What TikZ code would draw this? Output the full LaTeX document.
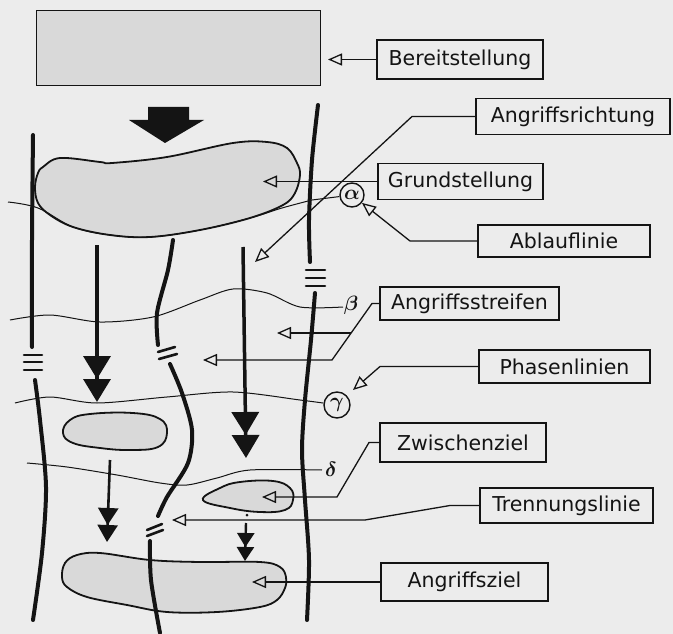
\documentclass[tikz,border=0pt]{standalone}
\usepackage{fontspec}
\setmainfont{DejaVu Sans}
\usetikzlibrary{arrows.meta}
\definecolor{paper}{gray}{0.925}
\definecolor{dotfill}{gray}{0.85}
\definecolor{ink}{gray}{0.08}
\begin{document}
\begin{tikzpicture}[
  x=1pt, y=-1pt,
  lbox/.style={draw=ink, line width=1.8pt, minimum height=36pt, inner sep=2pt,
               font=\fontsize{20.5}{24}\selectfont, text=ink},
  conn/.style={draw=ink, line width=1.3pt,
               -{Triangle[open, length=14pt, width=12pt, line width=1.3pt]}},
  wall/.style={draw=ink, line width=4pt, line cap=round},
  phase/.style={draw=ink, line width=1pt},
  area/.style={draw=ink, line width=1.8pt, fill=dotfill},
  brk/.style={draw=ink, line width=2.6pt, line cap=round},
  push/.style={draw=ink, line width=3.5pt,
               -{Triangle[length=23pt, width=27pt] Triangle[length=23pt, width=27pt]}},
  nudge/.style={draw=ink, line width=2.6pt,
               -{Triangle[length=17pt, width=20pt] Triangle[length=17pt, width=20pt]}},
  greek/.style={font=\fontsize{21}{23}\selectfont\boldmath, text=ink},
  pmark/.style={circle, draw=ink, line width=1.4pt, inner sep=0pt, minimum size=24pt, greek}
]
\useasboundingbox (0,0) rectangle (673,634);
\fill[paper] (0,0) rectangle (673,634);

\path[fill=dotfill, draw=ink, line width=0.8pt] (36,10) rectangle (320,85);
\fill[ink] (148,107) -- (189,107) -- (189,120) -- (204,120) -- (165,143)
  -- (129,120) -- (148,120) -- cycle;

\path[area] plot[smooth cycle, tension=0.6] coordinates {(43,167) (60,158) (100,162) (112,163)
  (167,157) (233,143) (267,142) (287,148) (297,163) (300,175) (295,193) (283,205)
  (250,218) (200,230) (150,237) (110,235) (73,227) (50,215) (38,203) (35,187) (38,173)};
\path[area] plot[smooth cycle, tension=0.7] coordinates {(63,433) (70,420) (90,414) (133,413)
  (160,419) (167,433) (158,447) (130,450) (100,448) (73,443)};
\path[area] plot[smooth cycle, tension=0.7] coordinates {(203,500) (220,488) (240,482)
  (273,481) (290,488) (293,500) (285,510) (260,512) (230,508)};
\path[area] plot[smooth cycle, tension=0.6] coordinates {(62,577) (65,563) (77,555) (100,553)
  (150,560) (200,562) (260,562) (280,567) (286,577) (285,588) (277,600) (260,607)
  (217,612) (167,612) (127,605) (87,597) (67,587)};

\node[pmark] (alpha) at (352,195) {$\alpha$};
\node[pmark, minimum size=26pt] (gamma) at (337,405) {$\gamma$};
\node[greek, inner sep=1pt] (beta) at (351,305) {$\beta$};
\node[greek, inner sep=1pt] (delta) at (331,469) {$\delta$};

\draw[phase] plot[smooth, tension=0.6] coordinates {(8,202) (38,208) (73,227) (110,235)
  (150,237) (200,230) (250,218) (282,208) (312,200)} -- (alpha);
\draw[phase] plot[smooth] coordinates {(10,320) (50,315) (100,322) (153,317) (200,300)
  (233,289) (267,293) (300,307) (343,307)};
\draw[phase] plot[smooth] coordinates {(15,403) (50,397) (97,403) (167,397) (233,392)
  (300,400) (323,403)} -- (gamma);
\draw[phase] plot[smooth] coordinates {(27,463) (67,467) (117,475) (160,483) (187,485)
  (217,478) (250,470) (322,470)};

\draw[wall] plot[smooth] coordinates {(33,135) (32,240) (32,347)};
\draw[wall] plot[smooth] coordinates {(35,380) (40,420) (46,487) (42,553) (33,620)};
\foreach \y in {355,362,370} \draw[brk] (24,\y) -- (42,\y);
\draw[wall] plot[smooth] coordinates {(318,105) (312,160) (309,220) (310,262)};
\draw[wall] plot[smooth] coordinates {(315,293) (311,340) (305,400) (302,450) (305,500)
  (309,560) (307,620)};
\foreach \y in {270,278,286} \draw[brk] (306,\y) -- (325,\y);
\draw[wall] plot[smooth] coordinates {(173,240) (168,270) (157,313) (158,345)};
\draw[wall] plot[smooth] coordinates {(170,364) (182,393) (192,430) (188,463) (167,497)
  (158,516)};
\draw[wall] plot[smooth] coordinates {(150,541) (151,580) (160,633)};
\draw[brk] (158,352) -- (175,347);
\draw[brk] (159,359) -- (177,354);
\draw[brk] (147,530) -- (162,524);
\draw[brk] (147,536) -- (163,530);

\draw[push] (97,245) -- (97,402);
\draw[push] (243,247) -- (246,458);
\draw[nudge] (110,460) -- (107,542);
\fill[ink] (247,515) circle (1.5pt);
\draw[draw=ink, line width=2.4pt,
  -{Triangle[length=14pt, width=17pt] Triangle[length=14pt, width=17pt]}] (246,523) -- (245,561);

\node[lbox, minimum width=166pt, minimum height=39pt] (bereit) at (460,59.5) {Bereitstellung};
\node[lbox, minimum width=194pt] (richtung) at (573,116.5) {Angriffsrichtung};
\node[lbox, minimum width=165pt] (grund) at (460.5,181.5) {Grundstellung};
\node[lbox, minimum width=172pt, minimum height=32pt] (ablauf) at (564,241) {Ablauflinie};
\node[lbox, minimum width=179pt, minimum height=33pt] (streifen) at (469.5,303.5) {Angriffsstreifen};
\node[lbox, minimum width=171pt, minimum height=33pt] (phasen) at (564.5,366.5) {Phasenlinien};
\node[lbox, minimum width=166pt, minimum height=39pt] (zwischen) at (463,442.5) {Zwischenziel};
\node[lbox, minimum width=173pt, minimum height=35pt] (trennung) at (566.5,505.5) {Trennungslinie};
\node[lbox, minimum width=167pt, minimum height=38pt] (ziel) at (464.5,582) {Angriffsziel};

\coordinate (tBereit) at (328,59.5);
\coordinate (tGrund) at (263,181.5);
\coordinate (kRicht) at (412,116.5);
\coordinate (tRicht) at (255,262);
\coordinate (kAblauf) at (410,241);
\coordinate (kStreif) at (372,303.5);
\coordinate (kStreif2) at (332,360);
\coordinate (tStreif1) at (203,360);
\coordinate (bStreif) at (351,333);
\coordinate (tStreif2) at (277,333);
\coordinate (kPhasen) at (380,366.5);
\coordinate (tPhasen) at (353,390);
\coordinate (kZwisch) at (369,442.5);
\coordinate (kZwisch2) at (337,497);
\coordinate (tZwisch) at (262,497);
\coordinate (kTrenn) at (450,505.5);
\coordinate (kTrenn2) at (365,520);
\coordinate (tTrenn) at (172,520);
\coordinate (tZiel) at (252,582);

\draw[conn] (bereit.west) -- (tBereit);
\draw[conn] (grund.west) -- (tGrund);
\draw[conn] (richtung.west) -- (kRicht) -- (tRicht);
\draw[conn] (ablauf.west) -- (kAblauf) -- (alpha);
\draw[conn] (streifen.west) -- (kStreif) -- (kStreif2) -- (tStreif1);
\draw[conn] (bStreif) -- (tStreif2);
\draw[conn] (phasen.west) -- (kPhasen) -- (tPhasen);
\draw[conn] (zwischen.west) -- (kZwisch) -- (kZwisch2) -- (tZwisch);
\draw[conn] (trennung.west) -- (kTrenn) -- (kTrenn2) -- (tTrenn);
\draw[conn] (ziel.west) -- (tZiel);
\end{tikzpicture}
\end{document}
